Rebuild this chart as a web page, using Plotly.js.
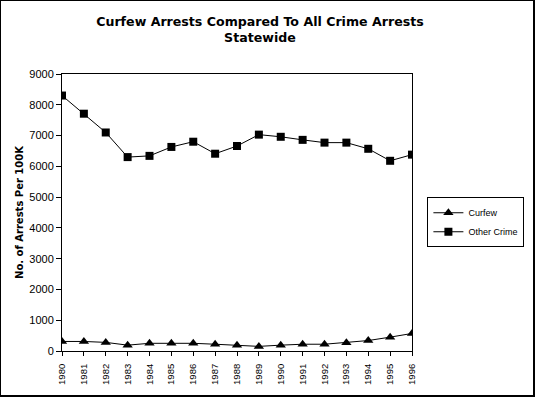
<!DOCTYPE html>
<html>
<head>
<meta charset="utf-8">
<script src="https://cdn.plot.ly/plotly-3.0.1.min.js"></script>
<style>
html,body{margin:0;padding:0;background:#fff;}
#wrap{width:535px;height:397px;box-sizing:border-box;border:1px solid #000;border-right:2px solid #000;border-bottom:2px solid #000;position:relative;overflow:hidden;}
#chart{position:absolute;left:-1px;top:-1px;width:536px;height:397px;}
</style>
</head>
<body>
<div id="wrap"><div id="chart"></div></div>
<script>
const years = [1980,1981,1982,1983,1984,1985,1986,1987,1988,1989,1990,1991,1992,1993,1994,1995,1996];
const curfew = [310,310,280,190,250,250,250,220,190,150,190,220,220,270,340,450,570];
const otherCrime = [8300,7710,7100,6300,6340,6630,6800,6410,6660,7030,6960,6860,6770,6770,6570,6180,6380];
const seriesNames = ["Curfew","Other Crime"];
const titleText = "Curfew Arrests Compared To All Crime Arrests<br>Statewide";
const yTitle = "No. of Arrests Per 100K";

const traces = [
  {x: years, y: curfew, name: seriesNames[0], type: "scatter", mode: "lines+markers",
   line: {color: "#000", width: 1}, marker: {symbol: "triangle-up", size: 9, color: "#000"}},
  {x: years, y: otherCrime, name: seriesNames[1], type: "scatter", mode: "lines+markers",
   line: {color: "#000", width: 1}, marker: {symbol: "square", size: 8, color: "#000"}}
];

const layout = {
  width: 536, height: 397,
  margin: {l: 62, r: 112, t: 74, b: 46},
  paper_bgcolor: "#fff", plot_bgcolor: "#fff",
  font: {family: "Liberation Sans, Arial, sans-serif", color: "#000", size: 11},
  title: {text: titleText, x: 0.485, xanchor: "center", y: 0.935, yanchor: "top",
          font: {family: "DejaVu Sans, sans-serif", size: 12.6, weight: "bold", color: "#000"}},
  xaxis: {range: [1980, 1996], dtick: 1, tickmode: "linear", tick0: 1980, showgrid: false, zeroline: false,
          showline: true, linecolor: "#000", linewidth: 1, mirror: true,
          ticks: "outside", ticklen: 4, tickcolor: "#000", tickangle: -90, ticklabelstandoff: 4,
          tickfont: {size: 9.5, color: "#000", family: "Liberation Sans, Arial, sans-serif"}},
  yaxis: {range: [0, 9000], dtick: 1000, showgrid: false, zeroline: false,
          showline: true, linecolor: "#000", linewidth: 1, mirror: true,
          ticks: "outside", ticklen: 5, tickcolor: "#000",
          tickfont: {size: 11, color: "#000", family: "Liberation Sans, Arial, sans-serif"},
          title: {text: yTitle, standoff: 3, font: {size: 10, color: "#000", weight: "bold", family: "DejaVu Sans, sans-serif"}}},
  showlegend: true,
  legend: {x: 1.044, y: 0.555, xanchor: "left", yanchor: "top",
           bordercolor: "#000", borderwidth: 1, bgcolor: "#fff",
           font: {size: 9, color: "#000", family: "Liberation Sans, Arial, sans-serif"},
           itemwidth: 30, tracegroupgap: 0, traceorder: "normal"}
};

Plotly.newPlot("chart", traces, layout, {staticPlot: true, displayModeBar: false});
</script>
</body>
</html>
